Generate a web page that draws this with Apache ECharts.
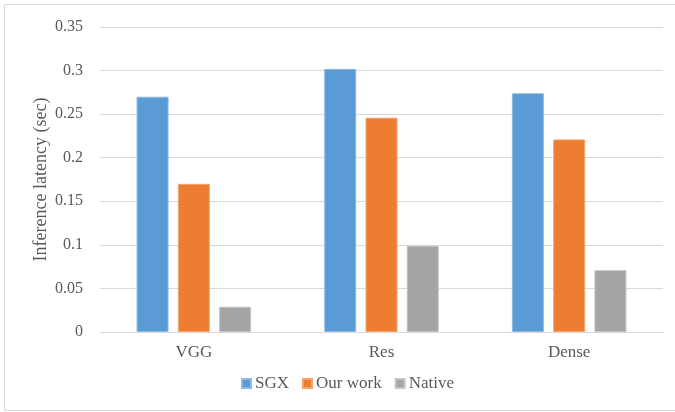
<!DOCTYPE html>
<html>
<head>
<meta charset="utf-8">
<script src="https://cdn.jsdelivr.net/npm/echarts@6/dist/echarts.min.js"></script>
<style>
  html, body { margin: 0; padding: 0; background: #fff; }
  #chart { width: 675px; height: 412px; }
</style>
</head>
<body>
<div id="chart"></div>
<script>
// Model families on the x axis
const categories = ['VGG', 'Res', 'Dense'];

// Inference latency per model, in seconds
const sgx = [0.270, 0.302, 0.274];
const ourWork = [0.170, 0.246, 0.221];
const native = [0.029, 0.099, 0.071];

const yTicks = { min: 0, max: 0.35, interval: 0.05 };

const font = 'Liberation Serif, Times New Roman, serif';
const chart = echarts.init(document.getElementById('chart'));

const barStyle = (color, border) => ({
  type: 'bar',
  barWidth: 32,
  barGap: '29%',
  itemStyle: { color: color, borderColor: border, borderWidth: 1 }
});

chart.setOption({
  animation: false,
  textStyle: { fontFamily: font },
  graphic: [{
    type: 'rect',
    shape: { x: 4.5, y: 4.5, width: 690, height: 406 },
    style: { fill: 'none', stroke: '#d9d9d9', lineWidth: 1 },
    silent: true
  }],
  grid: { left: 100, right: 12, top: 27, bottom: 80 },
  legend: {
    bottom: 15,
    left: 236,
    itemWidth: 9,
    itemHeight: 9,
    itemGap: 13,
    icon: 'rect',
    textStyle: { fontFamily: font, fontSize: 17, color: '#595959', padding: [0, 0, 0, -1] },
    data: ['SGX', 'Our work', 'Native']
  },
  xAxis: {
    type: 'category',
    data: categories,
    axisLine: { lineStyle: { color: '#d9d9d9', width: 1 } },
    axisTick: { show: false },
    axisLabel: { fontFamily: font, fontSize: 17, color: '#595959', margin: 12 }
  },
  yAxis: {
    type: 'value',
    min: yTicks.min,
    max: yTicks.max,
    interval: yTicks.interval,
    name: 'Inference latency (sec)',
    nameLocation: 'middle',
    nameGap: 50,
    nameMoveOverlap: false,
    nameTextStyle: { fontFamily: font, fontSize: 18, color: '#595959' },
    axisLine: { show: false },
    axisTick: { show: false },
    splitLine: { lineStyle: { color: '#d9d9d9', width: 1 } },
    axisLabel: {
      fontFamily: font, fontSize: 16, color: '#595959', margin: 17,
      formatter: v => String(+v.toFixed(2))
    }
  },
  series: [
    Object.assign({ name: 'SGX', data: sgx }, barStyle('#5B9BD5', '#8db9e3')),
    Object.assign({ name: 'Our work', data: ourWork }, barStyle('#ED7D31', '#f3a472')),
    Object.assign({ name: 'Native', data: native }, barStyle('#A5A5A5', '#c4c4c4'))
  ]
});
</script>
</body>
</html>
